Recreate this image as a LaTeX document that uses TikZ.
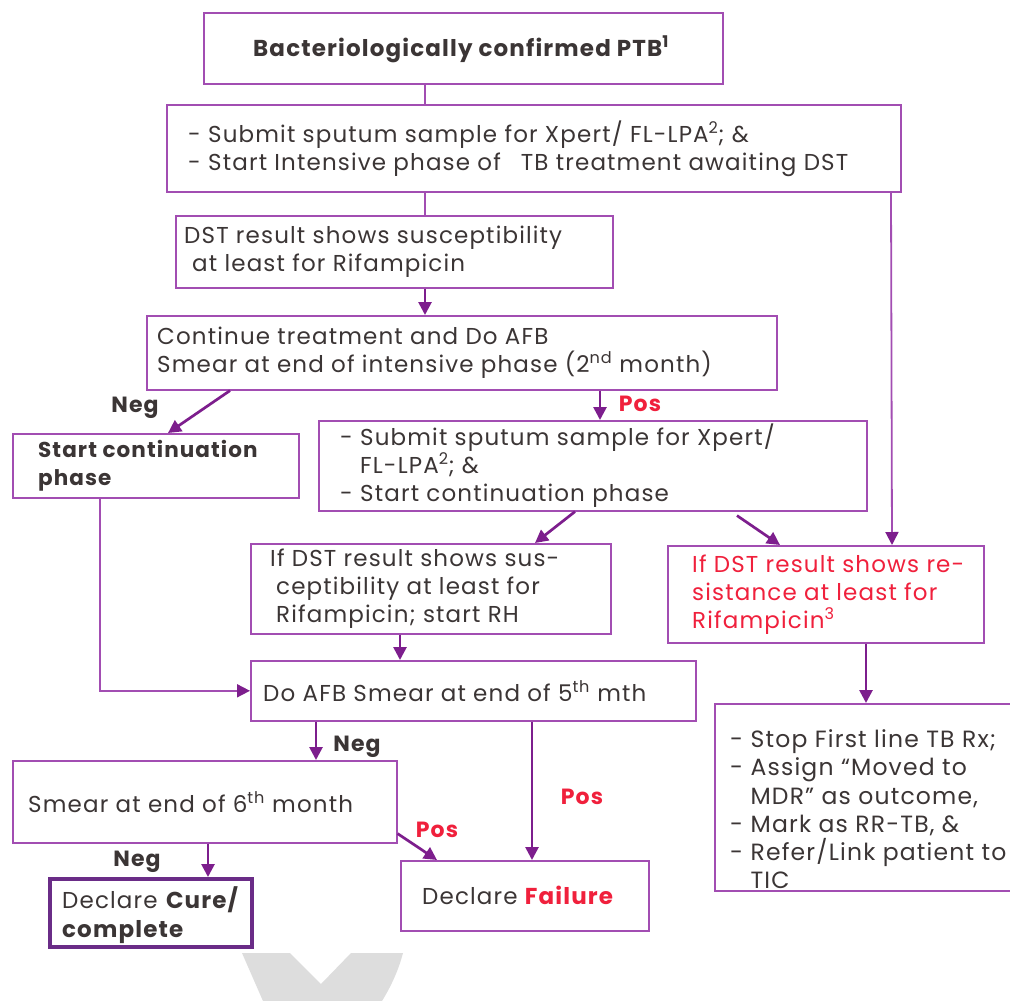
\documentclass[tikz,border=0pt]{standalone}
\usepackage{fontspec}
\setmainfont{Poppins}[LetterSpace=5]
\usetikzlibrary{arrows.meta}

\definecolor{boxc}{HTML}{A24DB2}
\definecolor{arrc}{HTML}{7D1E8D}
\definecolor{curec}{HTML}{6A2C87}
\definecolor{redc}{HTML}{F0203C}
\definecolor{txtc}{HTML}{3B3535}
\definecolor{chevc}{HTML}{DDDDDD}

% text sizes
\newcommand\fs{\fontsize{23}{28}\selectfont}
\newcommand\fl{\fontsize{23.5}{28.3}\selectfont}
\newcommand\fb{\fontsize{22}{26}\selectfont\bfseries}

\begin{document}
\begin{tikzpicture}[x=1pt,y=-1pt,
  box/.style={draw=boxc, line width=1.6pt, anchor=north west, inner sep=0pt},
  dims/.style 2 args={minimum width=#1, minimum height=#2},
  txt/.style={anchor=west, align=left, inner sep=0pt, text=txtc, font=\fs},
  flow/.style={draw=arrc, line width=2.7pt, -{Triangle[length=13pt,width=13pt]}},
  link/.style={draw=boxc, line width=1.8pt},
  linkarr/.style={link, -{Triangle[length=13pt,width=13pt,color=arrc]}},
  lbl/.style={font=\fb, text=txtc, inner sep=0pt},
  poslbl/.style={font=\fb, text=redc, inner sep=0pt}]

\useasboundingbox (0,0) rectangle (1010,1001);
\clip (0,0) rectangle (1010,1001);
\fill[white] (0,0) rectangle (1010,1001);

% faint chevron at the foot of the page
\fill[chevc] (242,953) -- (290,953) -- (321,984) -- (351,953) -- (403,953)
  .. controls (398,972) and (390,988) .. (382,1001) -- (263,1001) -- cycle;

% boxes
\node[box, dims={519pt}{71pt}]  (b1)  at (203,12)  {};
\node[box, dims={734pt}{87pt}]  (b2)  at (166,104) {};
\node[box, dims={437pt}{72pt}]  (b3)  at (175,215) {};
\node[box, dims={630pt}{74pt}]  (b4)  at (146,315) {};
\node[box, dims={286pt}{64pt}]  (b5)  at (12,433)  {};
\node[box, dims={548pt}{90pt}]  (b6)  at (318,420) {};
\node[box, dims={360pt}{90pt}]  (b7)  at (250,543) {};
\node[box, dims={316pt}{97pt}]  (b8)  at (667,545) {};
\node[box, dims={445pt}{60pt}]  (b9)  at (250,660) {};
\node[box, dims={384pt}{82pt}]  (b10) at (12,760)  {};
\node[box, dims={304pt}{187pt}] (b11) at (714,703) {};
\node[box, dims={248pt}{70pt}]  (b12) at (400,860) {};
\node[box, dims={202pt}{68pt}, draw=curec, line width=3.5pt] (b13) at (48,877) {};

% box texts
\node[txt, font=\fontsize{23}{26}\selectfont\bfseries, yshift=-1pt] (t1) at ([xshift=50pt]b1.west)
  {Bacteriologically confirmed PTB\textsuperscript{1}};
\node[txt] (t2) at ([xshift=22pt]b2.west)
  {- Submit sputum sample for Xpert/ FL-LPA\textsuperscript{2}; \&\\
   - Start Intensive phase of\hspace{20pt}TB treatment awaiting DST};
\node[txt] (t3) at ([xshift=9pt]b3.west)
  {DST result shows susceptibility\\
   \hspace*{8pt}at least for Rifampicin};
\node[txt] (t4) at ([xshift=11pt]b4.west)
  {Continue treatment and Do AFB\\
   Smear at end of intensive phase (2\textsuperscript{nd} month)};
\node[txt, font=\fontsize{21.5}{28}\selectfont\bfseries] (t5) at ([xshift=26pt]b5.west)
  {Start continuation\\phase};
\node[txt] (t6) at ([xshift=22pt]b6.west)
  {- Submit sputum sample for Xpert/\\
   \phantom{- }FL-LPA\textsuperscript{2}; \&\\
   - Start continuation phase};
\node[txt] (t7) at ([xshift=20pt]b7.west)
  {If DST result shows sus-\\
   \hspace*{6pt}ceptibility at least for\\
   \hspace*{6pt}Rifampicin; start RH};
\node[txt, text=redc] (t8) at ([xshift=25pt]b8.west)
  {If DST result shows re-\\
   sistance at least for\\
   Rifampicin\textsuperscript{3}};
\node[txt] (t9) at ([xshift=13pt]b9.west)
  {Do AFB Smear at end of 5\textsuperscript{th} mth};
\node[txt] (t10) at ([xshift=16pt]b10.west)
  {Smear at end of 6\textsuperscript{th} month};
\node[txt, font=\fl] (t11) at ([xshift=16pt,yshift=-12pt]b11.west)
  {- Stop First line TB Rx;\\
   - Assign “Moved to\\
   \phantom{- }MDR” as outcome,\\
   - Mark as RR-TB, \&\\
   - Refer/Link patient to\\
   \phantom{- }TIC};
\node[txt] (t12) at ([xshift=22pt]b12.west)
  {Declare \textcolor{redc}{\bfseries Failure}};
\node[txt, font=\fontsize{23}{29}\selectfont, yshift=-2pt] (t13) at ([xshift=14pt]b13.west)
  {Declare \textbf{Cure/}\\\textbf{complete}};

% connectors
\draw[link] ([xshift=222pt]b1.south west) -- ([xshift=259pt]b2.north west);
\draw[link] ([xshift=259pt]b2.south west) -- ([xshift=250pt]b3.north west);
\draw[linkarr] ([xshift=725pt]b2.south west) -- ([xshift=225pt]b8.north west);
\draw[flow] ([xshift=250pt]b3.south west) -- ([xshift=279pt]b4.north west);
\draw[flow] ([xshift=84pt]b4.south west) -- ([xshift=156pt]b5.north west);
\draw[flow] ([xshift=454pt]b4.south west) -- ([xshift=282pt]b6.north west);
\draw[flow] ([xshift=257pt]b6.south west) -- ([xshift=285pt]b7.north west);
\draw[flow] ([xshift=419pt,yshift=-4pt]b6.south west) -- ([xshift=113pt]b8.north west);
\draw[flow] ([xshift=150pt]b7.south west) -- ([xshift=150pt]b9.north west);
\draw[linkarr] ([xshift=88pt]b5.south west) |- (b9.west);
\draw[flow] ([xshift=199pt]b8.south west) -- ([xshift=152pt]b11.north west);
\draw[flow] ([xshift=66pt]b9.south west) -- ([xshift=304pt]b10.north west);
\draw[flow] ([xshift=282pt]b9.south west) -- ([xshift=132pt]b12.north west);
\draw[flow] ([yshift=10pt]b10.south east) -- ([xshift=37pt]b12.north west);
\draw[flow] ([xshift=196pt]b10.south west) -- ([xshift=160pt]b13.north west);

% branch labels
\node[lbl] (neg1) at (135,408) {Neg};
\node[poslbl] (pos1) at (640,404) {Pos};
\node[lbl] (neg2) at (357,747) {Neg};
\node[poslbl] (pos2) at (582,797) {Pos};
\node[poslbl] (pos3) at (437,830) {Pos};
\node[lbl] (neg3) at (137,862) {Neg};
\end{tikzpicture}
\end{document}
